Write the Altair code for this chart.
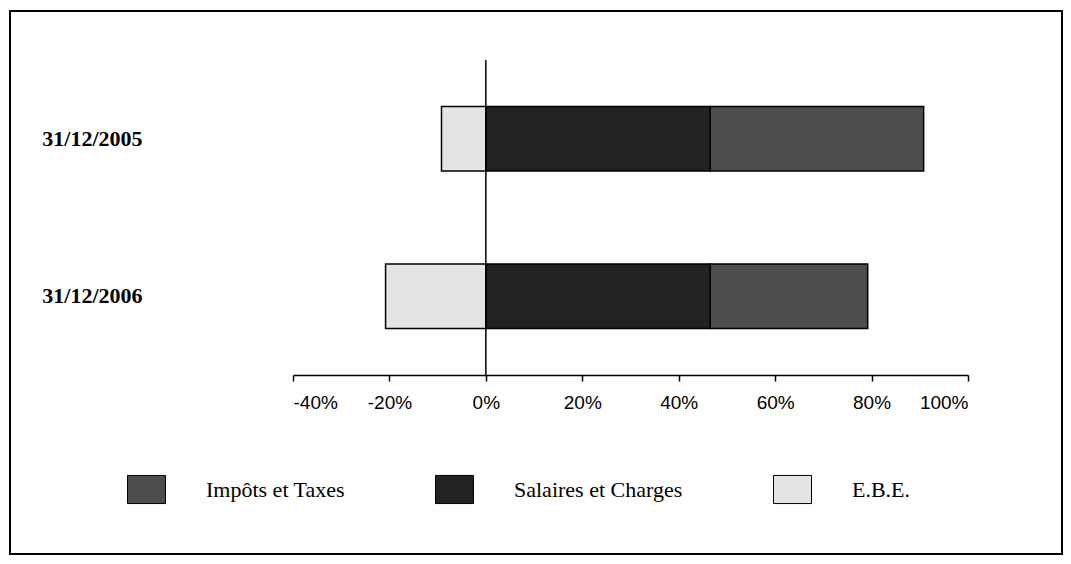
import altair as alt
import pandas as pd

categories = ["31/12/2005", "31/12/2006"]
series = ["Impôts et Taxes", "Salaires et Charges", "E.B.E."]
impots = [0.443, 0.327]
salaires = [0.465, 0.465]
ebe = [-0.092, -0.208]
stack_order = {"E.B.E.": 0, "Salaires et Charges": 1, "Impôts et Taxes": 2}
colors = ["#4d4d4d", "#222222", "#e4e4e4"]
ticks = [-0.4, -0.2, 0.0, 0.2, 0.4, 0.6, 0.8, 1.0]

rows = []
for i, c in enumerate(categories):
    for s, vals in zip(series, [impots, salaires, ebe]):
        rows.append({"date": c, "serie": s, "value": vals[i], "ord": stack_order[s]})
df = pd.DataFrame(rows)

x_scale = alt.Scale(domain=[-0.4, 1.0], nice=False, zero=False)

bars = alt.Chart(df).mark_bar(stroke="black", strokeWidth=1.5).encode(
    x=alt.X("value:Q", stack="zero", scale=x_scale, title=None,
            axis=alt.Axis(values=ticks, format=".0%", grid=False, domainColor="black",
                          labelExpr="replace(datum.label, '\u2212', '-')",
                          domainWidth=1.5, tickColor="black", tickWidth=1.5, tickSize=6,
                          labelPadding=12, labelFont="Liberation Sans", labelFontSize=19,
                          labelColor="black")),
    y=alt.Y("date:N", sort=categories, title=None,
            scale=alt.Scale(paddingInner=0.59, paddingOuter=0.295),
            axis=alt.Axis(domain=False, ticks=False, grid=False, labelPadding=151,
                          labelFont="Liberation Serif", labelFontWeight="bold",
                          labelFontSize=22, labelColor="black")),
    color=alt.Color("serie:N", sort=series,
                    scale=alt.Scale(domain=series, range=colors),
                    legend=alt.Legend(title=None, orient="none", direction="horizontal",
                                      legendX=-166, legendY=410, padding=0,
                                      symbolType="M-1,-0.74H1V0.74H-1Z", symbolSize=1444,
                                      symbolStrokeColor="black", symbolStrokeWidth=1,
                                      symbolOpacity=1, labelLimit=400,
                                      labelFont="Liberation Serif", labelFontSize=22,
                                      labelColor="black", labelOffset=40,
                                      columnPadding=88, gridAlign="none")),
    order=alt.Order("ord:Q"),
)

zero_line = alt.Chart(pd.DataFrame({"z": [0.0]})).mark_rule(color="black", strokeWidth=1.5).encode(
    x=alt.X("z:Q", scale=x_scale)
)

frame = alt.Chart(pd.DataFrame({"a": [0]})).mark_rect(
    filled=False, stroke="black", strokeWidth=2
).encode(
    x=alt.value(-283), x2=alt.value(769), y=alt.value(-49), y2=alt.value(494)
)

chart = alt.layer(bars, zero_line, frame).properties(
    width=675, height=315,
    padding={"left": 285, "top": 52, "right": 95, "bottom": 181},
    autosize=alt.AutoSizeParams(type="none"),
    view=alt.ViewBackground(strokeOpacity=0, strokeWidth=0),
).configure_view(strokeWidth=0, strokeOpacity=0).configure(background="white")

chart.save("out.html", embed_options={"renderer": "svg", "actions": False})
